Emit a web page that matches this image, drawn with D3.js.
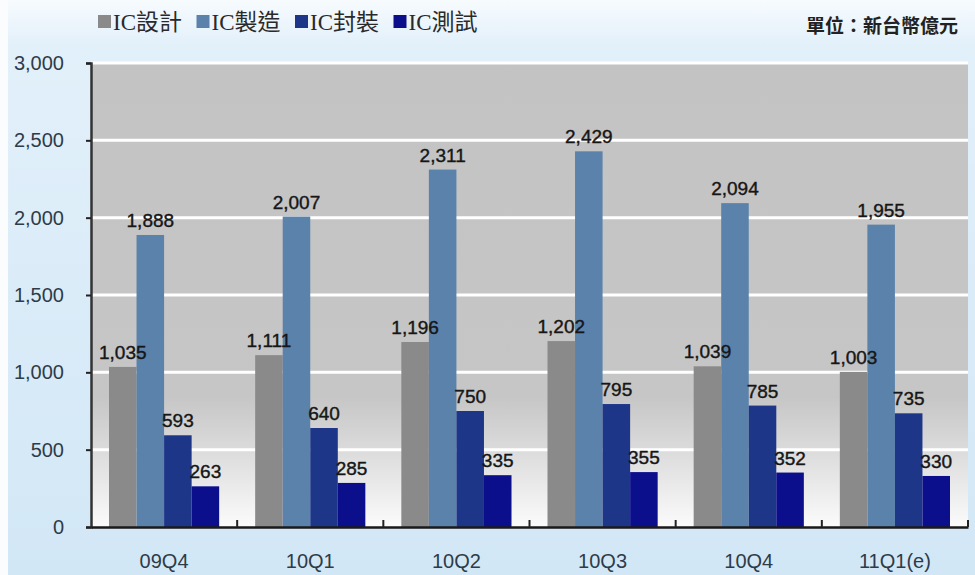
<!DOCTYPE html>
<html><head><meta charset="utf-8">
<script src="https://cdn.jsdelivr.net/npm/d3@7"></script>
<style>html,body{margin:0;padding:0;background:#fff;}svg{display:block;}</style>
</head><body>
<svg id="chart" width="975" height="575"></svg>
<script>
const categories = ["09Q4","10Q1","10Q2","10Q3","10Q4","11Q1(e)"];
const seriesNames = ["IC設計","IC製造","IC封裝","IC測試"];
const design = [1035,1111,1196,1202,1039,1003];
const manufacturing = [1888,2007,2311,2429,2094,1955];
const packaging = [593,640,750,795,785,735];
const testing = [263,285,335,355,352,330];
const yTicks = [0,500,1000,1500,2000,2500,3000];
const colors = ["#8a8a8a","#5b82ab","#1d3688","#0c0f8c"];
const unitText = "單位：新台幣億元";

const series = [design, manufacturing, packaging, testing];
const W = 975, H = 575;
const L = 91, R = 968, T = 63, B = 527;
const svg = d3.select("#chart");
const defs = svg.append("defs");

const bg = defs.append("linearGradient").attr("id","bg").attr("x1",0).attr("y1",0).attr("x2",0).attr("y2",1);
bg.append("stop").attr("offset","0").attr("stop-color","#f7fbfe");
bg.append("stop").attr("offset","0.08").attr("stop-color","#e2f0fa");
bg.append("stop").attr("offset","1").attr("stop-color","#d2e7f6");
const pg = defs.append("linearGradient").attr("id","pg").attr("x1",0).attr("y1",0).attr("x2",0).attr("y2",1);
pg.append("stop").attr("offset","0").attr("stop-color","#c3c3c3");
pg.append("stop").attr("offset","0.72").attr("stop-color","#c6c6c6");
pg.append("stop").attr("offset","0.85").attr("stop-color","#dedede");
pg.append("stop").attr("offset","1").attr("stop-color","#fbfbfb");

svg.append("rect").attr("width",W).attr("height",H).attr("fill","url(#bg)");
svg.append("rect").attr("x",0).attr("y",0).attr("width",8).attr("height",H).attr("fill","#fafcfe");

const y = d3.scaleLinear().domain([0,3000]).range([B,T]);
const x0 = d3.scaleBand().domain(categories).range([L,R]).padding(0);
const x1 = d3.scaleBand().domain(seriesNames).range([18, x0.bandwidth()-18]).padding(0);

svg.append("rect").attr("x",L).attr("y",T).attr("width",R-L).attr("height",B-T).attr("fill","url(#pg)");

// gridlines
svg.append("g").selectAll("line").data(yTicks.filter(d=>d>0)).join("line")
  .attr("x1",L).attr("x2",R).attr("y1",d=>y(d)).attr("y2",d=>y(d))
  .attr("stroke","#ffffff").attr("stroke-width",3);

// bars
const groups = svg.append("g").selectAll("g").data(categories).join("g")
  .attr("transform",d=>`translate(${x0(d)},0)`);
groups.selectAll("rect").data((c,i)=>seriesNames.map((s,j)=>({s,j,v:series[j][i]}))).join("rect")
  .attr("x",d=>x1(d.s)).attr("width",x1.bandwidth())
  .attr("y",d=>y(d.v)).attr("height",d=>B-y(d.v))
  .attr("fill",d=>colors[d.j]);
const fmt = d3.format(",");
groups.selectAll("text").data((c,i)=>seriesNames.map((s,j)=>({s,j,v:series[j][i]}))).join("text")
  .attr("x",d=>x1(d.s)+x1.bandwidth()/2).attr("y",d=>y(d.v)-8)
  .attr("text-anchor","middle").attr("font-family","Liberation Sans, Arial, sans-serif")
  .attr("font-size",19).attr("fill","#161616").attr("stroke","#161616").attr("stroke-width",0.4).text(d=>fmt(d.v));

// y axis
const yAxis = d3.axisLeft(y).tickValues(yTicks).tickFormat(fmt).tickSize(5).tickPadding(22);
const ya = svg.append("g").attr("transform",`translate(${L},0)`).call(yAxis);
ya.select(".domain").attr("stroke","#333").attr("stroke-width",2.5);
ya.selectAll(".tick line").attr("stroke","#222").attr("stroke-width",2);
ya.selectAll(".tick text").attr("font-family","Liberation Sans, Arial, sans-serif").attr("font-size",20).attr("fill","#2e3b48");

// x axis
const xAxis = d3.axisBottom(x0).tickSize(0).tickPadding(22);
const xa = svg.append("g").attr("transform",`translate(0,${B})`).call(xAxis);
xa.select(".domain").attr("stroke","#1a1a1a").attr("stroke-width",2.5);
xa.selectAll(".tick text").attr("font-family","Liberation Sans, Arial, sans-serif").attr("font-size",20).attr("fill","#2e3b48").attr("dy","0.95em");
svg.append("g").selectAll("line").data(categories.slice(1).concat(["__end"])).join("line")
  .attr("x1",d=>d==="__end"?R:x0(d)).attr("x2",d=>d==="__end"?R:x0(d))
  .attr("y1",B).attr("y2",B-7).attr("stroke","#222").attr("stroke-width",2);

// legend
const leg = svg.append("g").attr("transform","translate(98,0)");
const li = leg.selectAll("g").data(seriesNames).join("g").attr("transform",(d,i)=>`translate(${i*98.5},0)`);
li.append("rect").attr("x",0).attr("y",15).attr("width",13).attr("height",13).attr("fill",(d,i)=>colors[i]);
li.append("text").attr("x",15).attr("y",30).attr("font-family","Liberation Serif, 'Noto Sans CJK TC', serif")
  .attr("font-size",23).attr("fill","#2a2a2a").text(d=>d);

svg.append("text").attr("x",958).attr("y",33).attr("text-anchor","end")
  .attr("font-family","'Noto Sans CJK TC', sans-serif").attr("font-weight","bold")
  .attr("font-size",19).attr("fill","#222").text(unitText);
</script>
</body></html>
